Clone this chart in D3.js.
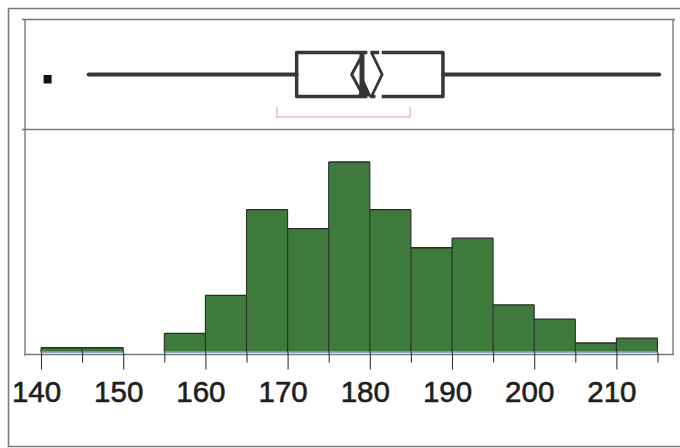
<!DOCTYPE html>
<html><head><meta charset="utf-8">
<script src="https://cdn.jsdelivr.net/npm/d3@7"></script>
<style>html,body{margin:0;padding:0;background:#fff}svg{display:block}</style>
</head><body>
<script>
// ---- data ----
const binStarts = [140,145,150,155,160,165,170,175,180,185,190,195,200,205,210];
const binWidth = 5;
const counts = [1,1,0,4,12,30,26,40,30,22,24,10,7,2,3];
const majorTicks = [140,150,160,170,180,190,200,210];
const minorTicks = [145,155,165,175,185,195,205,215];
const outliers = [140.8];
const whiskerLow = 145.8, q1 = 171.1, median = 179.05, q3 = 188.9, whiskerHigh = 215.2;
const notchLow = 177.8, notchHigh = 181.5, meanMark = 180.2;
const shortestHalf = [168.7, 184.9];

const W = 680, H = 448;
const svg = d3.select("body").append("svg").attr("width", W).attr("height", H);

const x = d3.scaleLinear().domain([140, 215]).range([41, 657.5]);
const y = d3.scaleLinear().domain([0, 40]).range([352.5, 162]);

const frame = "#7a7a7a";
// outer frame
svg.append("path").attr("d", "M680,8.5 H8.5 V446.5 H680").attr("fill","none").attr("stroke",frame).attr("stroke-width",1.6);
// inner panel
svg.append("line").attr("x1",22).attr("x2",675).attr("y1",19.5).attr("y2",19.5).attr("stroke",frame).attr("stroke-width",1.4);
svg.append("line").attr("x1",22).attr("x2",675).attr("y1",129.5).attr("y2",129.5).attr("stroke",frame).attr("stroke-width",1.4);
svg.append("line").attr("x1",25).attr("x2",25).attr("y1",19.5).attr("y2",356).attr("stroke",frame).attr("stroke-width",1.4);
svg.append("line").attr("x1",673).attr("x2",673).attr("y1",19.5).attr("y2",354).attr("stroke",frame).attr("stroke-width",1.4);
svg.append("line").attr("x1",25).attr("x2",674).attr("y1",354.5).attr("y2",354.5).attr("stroke",frame).attr("stroke-width",1.4);

// ---- histogram ----
const bins = binStarts.map((s,i)=>({x0:s, x1:s+binWidth, n:counts[i]}));
const g = svg.append("g");
g.selectAll("rect.bar").data(bins.filter(d=>d.n>0)).join("rect")
  .attr("class","bar")
  .attr("x", d=>x(d.x0)).attr("width", d=>x(d.x1)-x(d.x0))
  .attr("y", d=>y(d.n)).attr("height", d=>y(0)-y(d.n))
  .attr("fill", "#3e7a3b");
// light blue bottom edge
g.selectAll("line.bot").data(bins.filter(d=>d.n>0)).join("line")
  .attr("x1", d=>x(d.x0)).attr("x2", d=>x(d.x1))
  .attr("y1", y(0)-0.5).attr("y2", y(0)-0.5)
  .attr("stroke","#7fa9c9").attr("stroke-width",1.5);
// top edges
g.selectAll("line.top").data(bins.filter(d=>d.n>0)).join("line")
  .attr("x1", d=>x(d.x0)).attr("x2", d=>x(d.x1))
  .attr("y1", d=>y(d.n)).attr("y2", d=>y(d.n))
  .attr("stroke","#2a2a2a").attr("stroke-width",1.3);
// vertical edges between bins
const edges = binStarts.concat([binStarts[binStarts.length-1]+binWidth]);
g.selectAll("line.edge").data(edges).join("line")
  .attr("x1", d=>x(d)).attr("x2", d=>x(d))
  .attr("y1", (d,i)=>{
    const a = i>0 ? counts[i-1] : 0, b = i<counts.length ? counts[i] : 0;
    return y(Math.max(a,b));
  })
  .attr("y2", y(0))
  .attr("stroke","#2a2a2a").attr("stroke-width",1.1);

// axes
const axMajor = d3.axisBottom(x).tickValues(majorTicks).tickSize(17).tickPadding(12).tickFormat(d3.format("d"));
const gM = svg.append("g").attr("transform", `translate(0,${y(0)})`).call(axMajor);
gM.select(".domain").remove();
gM.selectAll(".tick line").attr("stroke","#333").attr("stroke-width",1.1);
gM.selectAll(".tick text").attr("font-family","'Liberation Sans', Arial, sans-serif")
  .attr("font-size",29.5).attr("fill","#1e1e1e").attr("stroke","#1e1e1e").attr("stroke-width",0.6)
  .attr("x",-5).attr("dy","0.71em");
const axMinor = d3.axisBottom(x).tickValues(minorTicks).tickSize(10).tickFormat("");
const gm = svg.append("g").attr("transform", `translate(0,${y(0)})`).call(axMinor);
gm.select(".domain").remove();
gm.selectAll(".tick line").attr("stroke","#333").attr("stroke-width",1.1);

// ---- box plot ----
const bTop = 52.5, bBot = 96.5, bMid = 74.5;
const bx = svg.append("g").attr("fill","none").attr("stroke","#363636").attr("stroke-linecap","round");
// whiskers
bx.append("line").attr("x1",x(whiskerLow)).attr("x2",x(q1)).attr("y1",bMid).attr("y2",bMid).attr("stroke-width",4);
bx.append("line").attr("x1",x(q3)).attr("x2",x(whiskerHigh)).attr("y1",bMid).attr("y2",bMid).attr("stroke-width",4);
// outliers
svg.selectAll("rect.out").data(outliers).join("rect").attr("class","out")
  .attr("x", d=>x(d)-4).attr("y", bMid+0.5).attr("width",8).attr("height",8.5)
  .attr("fill","#111");
// box sides
bx.append("line").attr("x1",x(q1)).attr("x2",x(q1)).attr("y1",bTop).attr("y2",bBot).attr("stroke-width",3.5);
bx.append("line").attr("x1",x(q3)).attr("x2",x(q3)).attr("y1",bTop).attr("y2",bBot).attr("stroke-width",3.5);
// box top/bottom with gaps
const gapL = 179.7, gapR = 181.45;
[[q1,gapL],[gapR,q3]].forEach(([a,b])=>{
  bx.append("line").attr("x1",x(a)).attr("x2",x(b)).attr("y1",bTop).attr("y2",bTop).attr("stroke-width",3.5).attr("stroke-linecap","butt");
  bx.append("line").attr("x1",x(a)).attr("x2",x(b)).attr("y1",bBot).attr("y2",bBot).attr("stroke-width",3.5).attr("stroke-linecap","butt");
});
// median line with left bulge
bx.append("line").attr("x1",x(median)).attr("x2",x(median)).attr("y1",bTop).attr("y2",bBot).attr("stroke-width",5).attr("stroke-linecap","butt");
bx.append("path").attr("d", d3.line()([[x(median),bTop+3],[x(notchLow),bMid],[x(median),bBot-3]])).attr("stroke-width",3);
bx.append("path").attr("d", d3.line()([[x(median)-3,bBot],[x(median)+2,bMid+8],[x(meanMark)-1,bBot]]))
  .attr("fill","#363636").attr("stroke-width",2);
// right chevron
bx.append("path").attr("d", d3.line()([[x(meanMark),bTop],[x(notchHigh),bMid],[x(meanMark),bBot]])).attr("stroke-width",2.8).attr("stroke-linecap","butt");
bx.append("line").attr("x1",x(meanMark)-1).attr("x2",x(gapR)-2.5).attr("y1",bTop).attr("y2",bTop).attr("stroke-width",3.5).attr("stroke-linecap","butt");
bx.append("line").attr("x1",x(meanMark)-1).attr("x2",x(meanMark)+4).attr("y1",bBot).attr("y2",bBot).attr("stroke-width",3.5).attr("stroke-linecap","butt");
// shortest half bracket
svg.append("path").attr("d", `M${x(shortestHalf[0])},107 V117 H${x(shortestHalf[1])} V107`)
  .attr("fill","none").attr("stroke","#f2b9c9").attr("stroke-width",1.6);
</script>
</body></html>
